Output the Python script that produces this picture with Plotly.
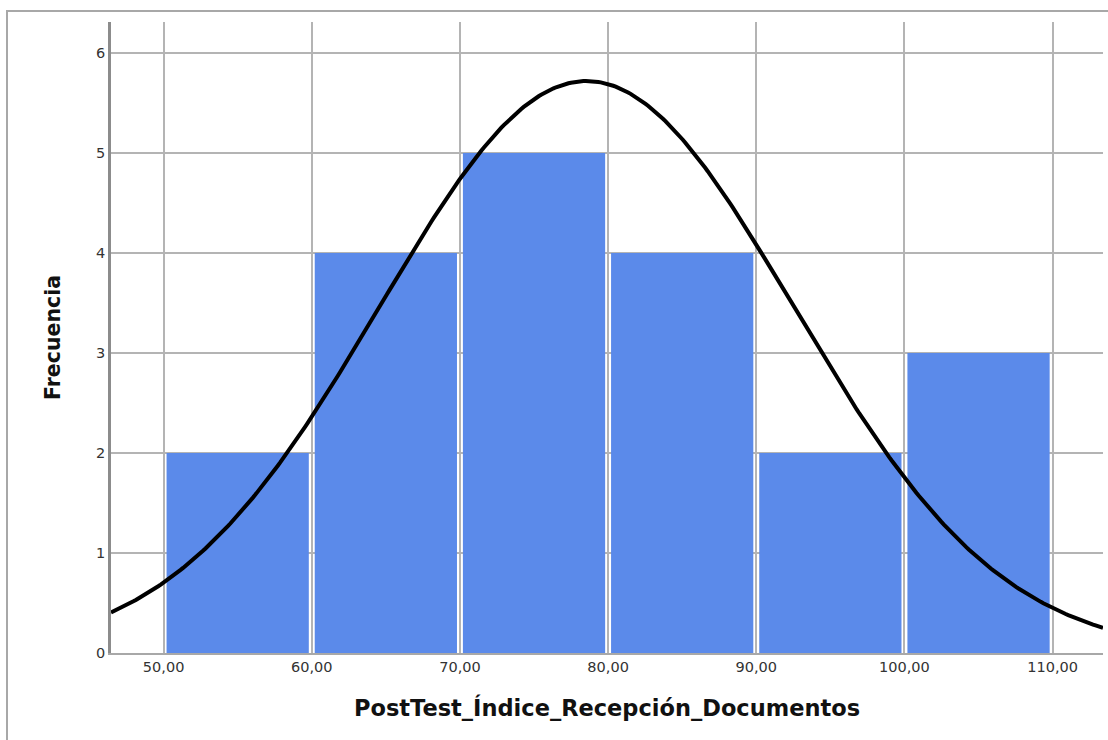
import numpy as np
import plotly.graph_objects as go

# Data
bin_centers = [55, 65, 75, 85, 95, 105]
frequencies = [2, 4, 5, 4, 2, 3]
bin_width = 10
n_total = 20
mean_val = 78.55
sd_val = 13.95
x_tick_vals = [50, 60, 70, 80, 90, 100, 110]
x_tick_text = ["50,00", "60,00", "70,00", "80,00", "90,00", "100,00", "110,00"]
y_tick_vals = [0, 1, 2, 3, 4, 5, 6]

x_range = [46.45, 113.4]
y_range = [0, 6.31]

xs = np.linspace(x_range[0], x_range[1], 400)
ys = n_total * bin_width / (sd_val * np.sqrt(2 * np.pi)) * np.exp(-0.5 * ((xs - mean_val) / sd_val) ** 2)

fig = go.Figure()
fig.add_trace(go.Bar(
    x=bin_centers, y=frequencies, width=9.6,
    marker=dict(color="#5B8AEA", line=dict(width=0)),
    hoverinfo="skip",
))
fig.add_trace(go.Scatter(
    x=xs, y=ys, mode="lines",
    line=dict(color="black", width=4),
    hoverinfo="skip",
))

grid_col = "#B4B4B4"
fig.update_layout(
    width=1108, height=740,
    margin=dict(l=111, r=5, t=22, b=87),
    paper_bgcolor="white", plot_bgcolor="white",
    showlegend=False,
    font=dict(family="DejaVu Sans, Arial, sans-serif", color="#222222"),
    xaxis=dict(
        range=x_range, tickvals=x_tick_vals, ticktext=x_tick_text,
        showgrid=True, gridcolor=grid_col, gridwidth=1.5,
        showline=True, linecolor="#A8A8A8", linewidth=2,
        ticks="", zeroline=False,
        tickfont=dict(size=14.5, color="#333333"),
        title=dict(text="<b>PostTest_Índice_Recepción_Documentos</b>",
                   font=dict(size=22.5, color="#111111"), standoff=26),
    ),
    yaxis=dict(
        range=y_range, tickvals=y_tick_vals,
        showgrid=True, gridcolor=grid_col, gridwidth=1.5,
        showline=True, linecolor="#8C8C8C", linewidth=2.5,
        ticks="", zeroline=False,
        tickfont=dict(size=14.5, color="#333333"),
        title=dict(text="<b>Frecuencia</b>",
                   font=dict(size=20.5, color="#111111"), standoff=30),
    ),
)

# outer frame
fig.add_shape(type="rect", xref="paper", yref="paper",
              x0=(7 - 111) / 992, x1=1.05, y0=-0.3, y1=(653 - 11) / 631,
              line=dict(color="#A8A8A8", width=2), fillcolor="rgba(0,0,0,0)", layer="below")

fig.write_html("out.html", config={"displayModeBar": False},
               post_script="document.body.style.margin='0px';")
